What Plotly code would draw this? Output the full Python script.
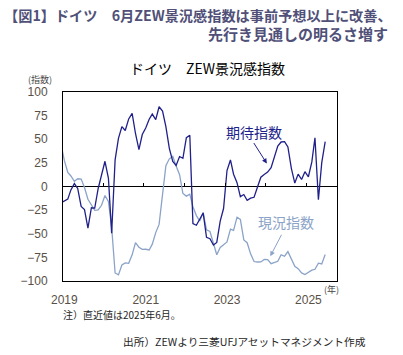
import pandas as pd
import plotly.graph_objects as go

# Monthly data, Dec 2018 - Jun 2025
start_month = "2018-12-01"
expectations = [
    -17.5,
    -15.0, -13.4, -3.6, 3.1, -2.1, -21.1, -24.5, -44.1, -22.5, -22.8, -2.1, 10.7,
    26.7, 8.7, -49.5, 28.2, 51.0, 63.4, 59.3, 71.5, 77.4, 56.1, 39.0, 55.0,
    61.8, 71.2, 76.6, 70.7, 84.4, 79.8, 63.3, 40.4, 26.5, 22.3, 31.7, 29.9,
    51.7, 54.3, -39.3, -41.0, -34.3, -28.0, -53.8, -55.3, -61.9, -59.2, -36.7, -23.3,
    16.9, 28.1, 13.0, 4.1, -10.7, -8.5, -14.7, -12.3, -11.4, -1.1, 9.8, 12.8,
    15.2, 19.9, 31.7, 42.9, 47.1, 47.5, 41.8, 19.2, 3.6, 13.1, 7.4, 15.7,
    10.3, 26.0, 51.6, -14.0, 25.2, 47.5,
]
current = [
    45.3,
    27.6, 15.0, 11.1, 5.5, 8.2, 7.8, -1.1, -13.5, -19.9, -25.3, -24.7, -19.9,
    -9.5, -15.7, -43.1, -91.5, -93.5, -83.1, -80.9, -81.3, -72.3, -59.5, -64.3, -66.5,
    -66.4, -67.2, -61.0, -48.8, -40.1, -9.1, 21.9, 29.3, 31.9, 21.6, 12.5, -7.4,
    -10.2, -8.1, -21.4, -30.8, -36.5, -27.6, -45.8, -47.6, -60.5, -72.2, -64.5, -61.4,
    -58.6, -45.1, -46.5, -32.5, -34.8, -56.5, -59.5, -71.3, -79.4, -79.9, -79.8, -77.1,
    -77.3, -81.7, -80.5, -79.2, -72.3, -73.8, -68.9, -77.3, -84.5, -86.9, -91.4, -93.1,
    -90.4, -88.5, -87.6, -81.2, -82.0, -72.0,
]
dates = pd.date_range(start_month, periods=len(expectations), freq="MS")

x_label_years = ["2019", "2021", "2023", "2025"]
x_label_dates = [f"{y}-01-01" for y in x_label_years]
year_tick_dates = [f"{y}-12-16" for y in range(2019, 2025)]
y_ticks = [100, 75, 50, 25, 0, -25, -50, -75, -100]
x_range = ["2018-12-20", "2025-09-15"]

NAVY = "#20208a"
LIGHT = "#8ba3c8"
TITLE = "#505078"
JP = "Noto Sans CJK JP"

fig = go.Figure()
fig.add_trace(go.Scatter(x=dates, y=current, mode="lines", name="現況指数",
                         line=dict(color=LIGHT, width=1.3), showlegend=False))
fig.add_trace(go.Scatter(x=dates, y=expectations, mode="lines", name="期待指数",
                         line=dict(color=NAVY, width=1.3), showlegend=False))
# invisible trace to activate the zero-line tick axis
fig.add_trace(go.Scatter(x=[dates[0]], y=[0], xaxis="x2", mode="markers",
                         marker=dict(opacity=0), showlegend=False, hoverinfo="skip"))

fig.update_layout(
    width=403, height=355, autosize=False,
    margin=dict(l=63, r=66, t=92, b=74),
    paper_bgcolor="white", plot_bgcolor="white",
    font=dict(family=JP, color="#222222"),
    xaxis=dict(
        type="date", range=x_range, tickvals=x_label_dates, ticktext=x_label_years,
        showgrid=False, zeroline=False, ticks="", showline=True, mirror=True,
        linecolor="black", linewidth=1,
        tickfont=dict(family="Liberation Sans", size=12, color="#595047"),
        ticklabelstandoff=8,
    ),
    xaxis2=dict(
        type="date", range=x_range, overlaying="x", anchor="free", position=0.5,
        side="bottom", tickvals=year_tick_dates, ticks="inside", ticklen=4,
        tickcolor="black", tickwidth=1, showticklabels=False, showgrid=False,
        showline=False, zeroline=False,
    ),
    yaxis=dict(
        range=[-100, 100], tickvals=y_ticks, showgrid=False,
        zeroline=True, zerolinecolor="black", zerolinewidth=1,
        showline=True, mirror=True, linecolor="black", linewidth=1, ticks="",
        tickfont=dict(family="Liberation Sans", size=12, color="#595047"),
        ticklabelstandoff=12,
    ),
)

ann = []
ann.append(dict(text="<b>【図1】ドイツ　6月ZEW景況感指数は事前予想以上に改善、</b>",
                xref="paper", yref="paper", x=-0.222, y=1.409, xanchor="left", yanchor="middle",
                showarrow=False, font=dict(family=JP, size=14.2, color=TITLE)))
ann.append(dict(text="<b>先行き見通しの明るさ増す</b>",
                xref="paper", yref="paper", x=1.192, y=1.312, xanchor="right", yanchor="middle",
                showarrow=False, font=dict(family=JP, size=15, color=TITLE)))
ann.append(dict(text="ドイツ　ZEW景況感指数", xref="paper", yref="paper", x=0.528, y=1.127,
                xanchor="center", yanchor="middle", showarrow=False,
                font=dict(family=JP, size=14, color="black")))
ann.append(dict(text="(指数)", xref="paper", yref="paper", x=-0.083, y=1.068,
                xanchor="center", yanchor="middle", showarrow=False,
                font=dict(family=JP, size=9, color="#444444")))
ann.append(dict(text="(年)", xref="paper", yref="paper", x=0.981, y=-0.046,
                xanchor="center", yanchor="middle", showarrow=False,
                font=dict(family=JP, size=9, color="#444444")))
ann.append(dict(text="注）直近値は2025年6月。", xref="paper", yref="paper", x=-0.008, y=-0.175,
                xanchor="left", yanchor="middle", showarrow=False,
                font=dict(family=JP, size=10, color="#262626")))
ann.append(dict(text="出所）ZEWより三菱UFJアセットマネジメント作成", xref="paper", yref="paper",
                x=0.213, y=-0.3196, xanchor="left", yanchor="middle", showarrow=False,
                font=dict(family=JP, size=10.7, color="#262626")))
# series labels
ann.append(dict(text="期待指数", x="2023-08-28", y=57.8, xref="x", yref="y",
                showarrow=False, font=dict(family=JP, size=14, color=NAVY)))
ann.append(dict(text="現況指数", x="2024-06-10", y=-37.5, xref="x", yref="y",
                showarrow=False, font=dict(family=JP, size=14, color=LIGHT)))
# arrows
ann.append(dict(text="", x="2023-12-25", y=24.3, xref="x", yref="y", ax=-14, ay=-22,
                showarrow=True, arrowhead=2, arrowsize=1, arrowwidth=1, arrowcolor=NAVY))
ann.append(dict(text="", x="2024-01-25", y=-73.8, xref="x", yref="y", ax=12, ay=-23,
                showarrow=True, arrowhead=2, arrowsize=1, arrowwidth=1, arrowcolor=LIGHT))
fig.update_layout(annotations=ann)

fig.write_html("out.html", config={"displayModeBar": False},
               post_script="document.body.style.margin='0px';document.body.style.overflow='hidden';")
